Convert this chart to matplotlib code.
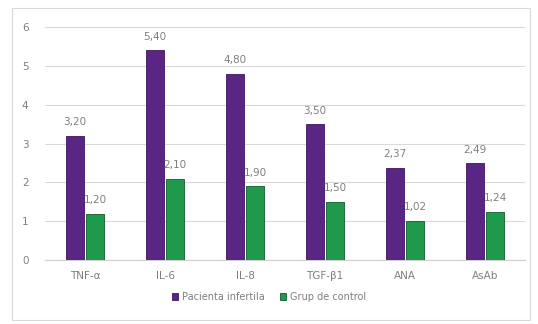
import matplotlib.pyplot as plt
import numpy as np
from matplotlib.patches import Rectangle

categories = ['TNF-α', 'IL-6', 'IL-8', 'TGF-β1', 'ANA', 'AsAb']
infertile = [3.20, 5.40, 4.80, 3.50, 2.37, 2.49]
control = [1.20, 2.10, 1.90, 1.50, 1.02, 1.24]
series_names = ['Pacienta infertila', 'Grup de control']

purple = '#5a2686'
green = '#1f9a4c'
grey_text = '#7f7f7f'

fig = plt.figure(figsize=(5.38, 3.24), dpi=100)
fig.patch.set_facecolor('white')
fig.patches.append(Rectangle((12 / 538, 4 / 324), 518 / 538, 312 / 324, transform=fig.transFigure,
                             fill=False, edgecolor='#d9d9d9', linewidth=0.8))

ax = fig.add_axes([0.084, 0.197, 0.892, 0.72])
x = np.arange(len(categories))
w = 0.22
gap = 0.03
b1 = ax.bar(x - w / 2 - gap / 2, infertile, w, color=purple, edgecolor='#3d1560', linewidth=0.6,
            label=series_names[0], zorder=3)
b2 = ax.bar(x + w / 2 + gap / 2, control, w, color=green, edgecolor='#0e5a2a', linewidth=0.6,
            label=series_names[1], zorder=3)

for bars, vals in [(b1, infertile), (b2, control)]:
    for r, v in zip(bars, vals):
        ax.text(r.get_x() + r.get_width() / 2, v + 0.22, f'{v:.2f}'.replace('.', ','),
                ha='center', va='bottom', fontsize=7.5, color=grey_text)

ax.set_xlim(-0.5, len(categories) - 0.5)
ax.set_ylim(0, 6)
ax.set_yticks(range(7))
ax.set_xticks(x)
ax.set_xticklabels(categories)
ax.tick_params(axis='both', length=0, labelsize=7.5, labelcolor=grey_text)
ax.tick_params(axis='x', pad=8)
ax.tick_params(axis='y', pad=12)
ax.yaxis.grid(True, color='#d9d9d9', linewidth=0.8, zorder=0)
for s in ['top', 'right', 'left']:
    ax.spines[s].set_visible(False)
ax.spines['bottom'].set_color('#d0d0d0')

fig.legend(loc='center', bbox_to_anchor=(0.5, 0.083), ncol=2, frameon=False, fontsize=7,
           handlelength=0.7, handleheight=0.7, handletextpad=0.4, columnspacing=1.5,
           labelcolor=grey_text)

fig.savefig('out.png', dpi=100)
